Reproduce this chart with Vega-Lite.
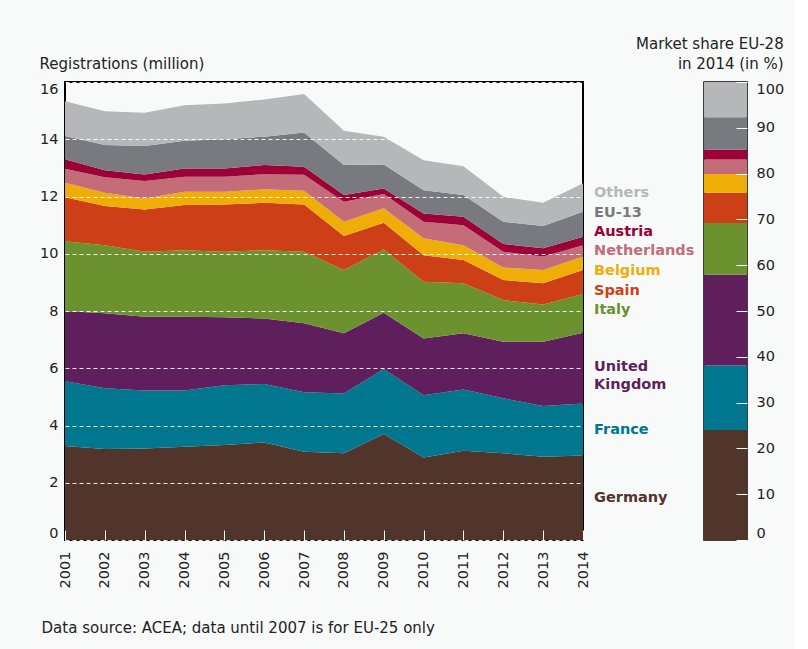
{
  "$schema": "https://vega.github.io/schema/vega-lite/v6.json",
  "background": "#f8faf9",
  "padding": {"left": 38, "top": 35, "right": 10, "bottom": 14},
  "config": {
    "font": "DejaVu Sans",
    "view": {"stroke": "#000000", "strokeWidth": 2},
    "axis": {"labelFont": "DejaVu Sans", "labelColor": "#222222", "labelFontSize": 14.5, "labelOverlap": false},
    "axisX": {"labelOverlap": false},
    "axisQuantitative": {"labelOverlap": false}
  },
  "bounds": "flush",
  "spacing": 121,
  "title": {
    "text": "Data source: ACEA; data until 2007 is for EU-25 only",
    "orient": "bottom", "anchor": "start", "frame": "bounds",
    "fontSize": 15, "fontWeight": "normal", "color": "#222222", "offset": 32, "dx": 3
  },
  "datasets": {
    "series": [
      {"country": "Germany", "rank": 1},
      {"country": "France", "rank": 2},
      {"country": "United Kingdom", "rank": 3},
      {"country": "Italy", "rank": 4},
      {"country": "Spain", "rank": 5},
      {"country": "Belgium", "rank": 6},
      {"country": "Netherlands", "rank": 7},
      {"country": "Austria", "rank": 8},
      {"country": "EU-13", "rank": 9},
      {"country": "Others", "rank": 10}
    ],
    "reg": [
      {"year": 2001, "country": "Germany", "value": 3.28},
      {"year": 2002, "country": "Germany", "value": 3.18},
      {"year": 2003, "country": "Germany", "value": 3.20},
      {"year": 2004, "country": "Germany", "value": 3.26},
      {"year": 2005, "country": "Germany", "value": 3.32},
      {"year": 2006, "country": "Germany", "value": 3.41},
      {"year": 2007, "country": "Germany", "value": 3.08},
      {"year": 2008, "country": "Germany", "value": 3.03},
      {"year": 2009, "country": "Germany", "value": 3.70},
      {"year": 2010, "country": "Germany", "value": 2.88},
      {"year": 2011, "country": "Germany", "value": 3.12},
      {"year": 2012, "country": "Germany", "value": 3.03},
      {"year": 2013, "country": "Germany", "value": 2.91},
      {"year": 2014, "country": "Germany", "value": 2.95},
      {"year": 2001, "country": "France", "value": 2.27},
      {"year": 2002, "country": "France", "value": 2.12},
      {"year": 2003, "country": "France", "value": 2.02},
      {"year": 2004, "country": "France", "value": 1.96},
      {"year": 2005, "country": "France", "value": 2.09},
      {"year": 2006, "country": "France", "value": 2.04},
      {"year": 2007, "country": "France", "value": 2.08},
      {"year": 2008, "country": "France", "value": 2.09},
      {"year": 2009, "country": "France", "value": 2.27},
      {"year": 2010, "country": "France", "value": 2.18},
      {"year": 2011, "country": "France", "value": 2.14},
      {"year": 2012, "country": "France", "value": 1.92},
      {"year": 2013, "country": "France", "value": 1.77},
      {"year": 2014, "country": "France", "value": 1.82},
      {"year": 2001, "country": "United Kingdom", "value": 2.45},
      {"year": 2002, "country": "United Kingdom", "value": 2.62},
      {"year": 2003, "country": "United Kingdom", "value": 2.58},
      {"year": 2004, "country": "United Kingdom", "value": 2.58},
      {"year": 2005, "country": "United Kingdom", "value": 2.37},
      {"year": 2006, "country": "United Kingdom", "value": 2.29},
      {"year": 2007, "country": "United Kingdom", "value": 2.41},
      {"year": 2008, "country": "United Kingdom", "value": 2.10},
      {"year": 2009, "country": "United Kingdom", "value": 1.97},
      {"year": 2010, "country": "United Kingdom", "value": 1.98},
      {"year": 2011, "country": "United Kingdom", "value": 1.96},
      {"year": 2012, "country": "United Kingdom", "value": 1.98},
      {"year": 2013, "country": "United Kingdom", "value": 2.25},
      {"year": 2014, "country": "United Kingdom", "value": 2.47},
      {"year": 2001, "country": "Italy", "value": 2.44},
      {"year": 2002, "country": "Italy", "value": 2.38},
      {"year": 2003, "country": "Italy", "value": 2.27},
      {"year": 2004, "country": "Italy", "value": 2.32},
      {"year": 2005, "country": "Italy", "value": 2.29},
      {"year": 2006, "country": "Italy", "value": 2.38},
      {"year": 2007, "country": "Italy", "value": 2.50},
      {"year": 2008, "country": "Italy", "value": 2.21},
      {"year": 2009, "country": "Italy", "value": 2.21},
      {"year": 2010, "country": "Italy", "value": 1.98},
      {"year": 2011, "country": "Italy", "value": 1.75},
      {"year": 2012, "country": "Italy", "value": 1.45},
      {"year": 2013, "country": "Italy", "value": 1.30},
      {"year": 2014, "country": "Italy", "value": 1.35},
      {"year": 2001, "country": "Spain", "value": 1.53},
      {"year": 2002, "country": "Spain", "value": 1.37},
      {"year": 2003, "country": "Spain", "value": 1.48},
      {"year": 2004, "country": "Spain", "value": 1.58},
      {"year": 2005, "country": "Spain", "value": 1.65},
      {"year": 2006, "country": "Spain", "value": 1.66},
      {"year": 2007, "country": "Spain", "value": 1.65},
      {"year": 2008, "country": "Spain", "value": 1.19},
      {"year": 2009, "country": "Spain", "value": 0.93},
      {"year": 2010, "country": "Spain", "value": 0.93},
      {"year": 2011, "country": "Spain", "value": 0.81},
      {"year": 2012, "country": "Spain", "value": 0.70},
      {"year": 2013, "country": "Spain", "value": 0.74},
      {"year": 2014, "country": "Spain", "value": 0.84},
      {"year": 2001, "country": "Belgium", "value": 0.51},
      {"year": 2002, "country": "Belgium", "value": 0.46},
      {"year": 2003, "country": "Belgium", "value": 0.38},
      {"year": 2004, "country": "Belgium", "value": 0.47},
      {"year": 2005, "country": "Belgium", "value": 0.45},
      {"year": 2006, "country": "Belgium", "value": 0.47},
      {"year": 2007, "country": "Belgium", "value": 0.48},
      {"year": 2008, "country": "Belgium", "value": 0.50},
      {"year": 2009, "country": "Belgium", "value": 0.51},
      {"year": 2010, "country": "Belgium", "value": 0.59},
      {"year": 2011, "country": "Belgium", "value": 0.52},
      {"year": 2012, "country": "Belgium", "value": 0.44},
      {"year": 2013, "country": "Belgium", "value": 0.46},
      {"year": 2014, "country": "Belgium", "value": 0.47},
      {"year": 2001, "country": "Netherlands", "value": 0.49},
      {"year": 2002, "country": "Netherlands", "value": 0.54},
      {"year": 2003, "country": "Netherlands", "value": 0.61},
      {"year": 2004, "country": "Netherlands", "value": 0.52},
      {"year": 2005, "country": "Netherlands", "value": 0.52},
      {"year": 2006, "country": "Netherlands", "value": 0.53},
      {"year": 2007, "country": "Netherlands", "value": 0.56},
      {"year": 2008, "country": "Netherlands", "value": 0.70},
      {"year": 2009, "country": "Netherlands", "value": 0.50},
      {"year": 2010, "country": "Netherlands", "value": 0.58},
      {"year": 2011, "country": "Netherlands", "value": 0.70},
      {"year": 2012, "country": "Netherlands", "value": 0.55},
      {"year": 2013, "country": "Netherlands", "value": 0.47},
      {"year": 2014, "country": "Netherlands", "value": 0.40},
      {"year": 2001, "country": "Austria", "value": 0.33},
      {"year": 2002, "country": "Austria", "value": 0.25},
      {"year": 2003, "country": "Austria", "value": 0.23},
      {"year": 2004, "country": "Austria", "value": 0.29},
      {"year": 2005, "country": "Austria", "value": 0.29},
      {"year": 2006, "country": "Austria", "value": 0.32},
      {"year": 2007, "country": "Austria", "value": 0.28},
      {"year": 2008, "country": "Austria", "value": 0.23},
      {"year": 2009, "country": "Austria", "value": 0.19},
      {"year": 2010, "country": "Austria", "value": 0.29},
      {"year": 2011, "country": "Austria", "value": 0.29},
      {"year": 2012, "country": "Austria", "value": 0.27},
      {"year": 2013, "country": "Austria", "value": 0.29},
      {"year": 2014, "country": "Austria", "value": 0.29},
      {"year": 2001, "country": "EU-13", "value": 0.81},
      {"year": 2002, "country": "EU-13", "value": 0.88},
      {"year": 2003, "country": "EU-13", "value": 0.99},
      {"year": 2004, "country": "EU-13", "value": 0.97},
      {"year": 2005, "country": "EU-13", "value": 1.02},
      {"year": 2006, "country": "EU-13", "value": 0.99},
      {"year": 2007, "country": "EU-13", "value": 1.20},
      {"year": 2008, "country": "EU-13", "value": 1.05},
      {"year": 2009, "country": "EU-13", "value": 0.84},
      {"year": 2010, "country": "EU-13", "value": 0.81},
      {"year": 2011, "country": "EU-13", "value": 0.76},
      {"year": 2012, "country": "EU-13", "value": 0.78},
      {"year": 2013, "country": "EU-13", "value": 0.78},
      {"year": 2014, "country": "EU-13", "value": 0.88},
      {"year": 2001, "country": "Others", "value": 1.22},
      {"year": 2002, "country": "Others", "value": 1.18},
      {"year": 2003, "country": "Others", "value": 1.17},
      {"year": 2004, "country": "Others", "value": 1.24},
      {"year": 2005, "country": "Others", "value": 1.25},
      {"year": 2006, "country": "Others", "value": 1.30},
      {"year": 2007, "country": "Others", "value": 1.34},
      {"year": 2008, "country": "Others", "value": 1.20},
      {"year": 2009, "country": "Others", "value": 0.97},
      {"year": 2010, "country": "Others", "value": 1.05},
      {"year": 2011, "country": "Others", "value": 1.01},
      {"year": 2012, "country": "Others", "value": 0.87},
      {"year": 2013, "country": "Others", "value": 0.81},
      {"year": 2014, "country": "Others", "value": 0.99}
    ],
    "labels": [
      {"year": 2014, "country": "Others", "label": "Others", "at": 12.12},
      {"year": 2014, "country": "EU-13", "label": "EU-13", "at": 11.44},
      {"year": 2014, "country": "Austria", "label": "Austria", "at": 10.76},
      {"year": 2014, "country": "Netherlands", "label": "Netherlands", "at": 10.08},
      {"year": 2014, "country": "Belgium", "label": "Belgium", "at": 9.39},
      {"year": 2014, "country": "Spain", "label": "Spain", "at": 8.71},
      {"year": 2014, "country": "Italy", "label": "Italy", "at": 8.03},
      {"year": 2014, "country": "United Kingdom", "label": "United\nKingdom", "at": 6.03},
      {"year": 2014, "country": "France", "label": "France", "at": 3.84},
      {"year": 2014, "country": "Germany", "label": "Germany", "at": 1.47}
    ],
    "share": [
      {"country": "Germany", "share": 24.0},
      {"country": "France", "share": 14.1},
      {"country": "United Kingdom", "share": 19.8},
      {"country": "Italy", "share": 11.3},
      {"country": "Spain", "share": 6.6},
      {"country": "Belgium", "share": 4.1},
      {"country": "Netherlands", "share": 3.2},
      {"country": "Austria", "share": 2.1},
      {"country": "EU-13", "share": 7.1},
      {"country": "Others", "share": 7.7}
    ]
  },
  "hconcat": [
    {
      "width": 518,
      "height": 458,
      "title": {
        "text": "Registrations (million)", "anchor": "start", "frame": "bounds",
        "fontSize": 15, "fontWeight": "normal", "color": "#222222", "offset": 9.5
      },
      "layer": [
        {
          "data": {"name": "reg"},
          "transform": [
            {"lookup": "country", "from": {"data": {"name": "series"}, "key": "country", "fields": ["rank"]}}
          ],
          "mark": {"type": "area", "opacity": 1},
          "encoding": {
            "x": {
              "field": "year", "type": "quantitative",
              "scale": {"domain": [2001, 2014], "nice": false, "zero": false},
              "axis": {
                "title": null, "values": [2001, 2002, 2003, 2004, 2005, 2006, 2007, 2008, 2009, 2010, 2011, 2012, 2013, 2014],
                "format": "d", "labelAngle": -90, "labelAlign": "right", "labelBaseline": "middle", "labelOverlap": false,
                "domain": false, "grid": false, "tickColor": "#ffffff", "tickSize": -10, "tickWidth": 1,
                "labelPadding": 21, "zindex": 1
              }
            },
            "y": {
              "field": "value", "type": "quantitative", "stack": "zero",
              "scale": {"domain": [0, 16], "nice": false},
              "axis": {
                "title": null, "values": [0, 2, 4, 6, 8, 10, 12, 14, 16],
                "domain": false, "ticks": false, "labelPadding": 7, "labelFlush": true,
                "grid": true, "gridColor": "#ffffff", "gridDash": [4, 3], "gridWidth": 1, "gridOpacity": 0.9, "zindex": 1
              }
            },
            "order": {"field": "rank", "type": "quantitative", "sort": "ascending"},
            "color": {
              "field": "country", "type": "nominal",
              "scale": {
                "domain": ["Germany", "France", "United Kingdom", "Italy", "Spain", "Belgium", "Netherlands", "Austria", "EU-13", "Others"],
                "range": ["#52352a", "#00768f", "#5f1f5d", "#6b922f", "#cd4017", "#eeae07", "#c46c78", "#9c0036", "#797a80", "#b6b7b9"]
              },
              "legend": null
            }
          }
        },
        {
          "data": {"name": "labels"},
          "mark": {"type": "text", "align": "left", "baseline": "middle", "dx": 11, "fontSize": 14.5, "fontWeight": "bold", "lineBreak": "\n", "lineHeight": 18},
          "encoding": {
            "x": {
              "field": "year", "type": "quantitative",
              "axis": {
                "title": null, "values": [2001, 2002, 2003, 2004, 2005, 2006, 2007, 2008, 2009, 2010, 2011, 2012, 2013, 2014],
                "format": "d", "labelAngle": -90, "labelAlign": "right", "labelBaseline": "middle", "labelOverlap": false,
                "domain": false, "grid": false, "tickColor": "#ffffff", "tickSize": -10, "tickWidth": 1,
                "labelPadding": 21, "zindex": 1
              }
            },
            "y": {"field": "at", "type": "quantitative"},
            "text": {"field": "label"},
            "color": {"field": "country", "type": "nominal", "legend": null}
          }
        }
      ]
    },
    {
      "width": 43,
      "height": 458,
      "data": {"name": "share"},
      "transform": [
        {"lookup": "country", "from": {"data": {"name": "series"}, "key": "country", "fields": ["rank"]}}
      ],
      "view": {"stroke": "#000000", "strokeWidth": 1.5},
      "title": {
        "text": ["Market share EU-28", "in 2014 (in %)"], "anchor": "end", "frame": "bounds",
        "fontSize": 15, "fontWeight": "normal", "color": "#222222", "offset": 9.5, "lineHeight": 20
      },
      "mark": {"type": "bar"},
      "encoding": {
        "x": {"datum": "2014", "type": "nominal", "axis": null, "scale": {"paddingInner": 0, "paddingOuter": 0}},
        "y": {
          "field": "share", "type": "quantitative", "stack": "zero",
          "scale": {"domain": [0, 100], "nice": false},
          "axis": {
            "title": null, "orient": "right", "values": [0, 10, 20, 30, 40, 50, 60, 70, 80, 90, 100],
            "domain": false, "grid": false, "tickColor": "#ffffff", "tickSize": -11, "labelPadding": 20,
            "labelFlush": true, "zindex": 1
          }
        },
        "order": {"field": "rank", "type": "quantitative", "sort": "ascending"},
        "color": {
          "field": "country", "type": "nominal",
          "scale": {
            "domain": ["Germany", "France", "United Kingdom", "Italy", "Spain", "Belgium", "Netherlands", "Austria", "EU-13", "Others"],
            "range": ["#52352a", "#00768f", "#5f1f5d", "#6b922f", "#cd4017", "#eeae07", "#c46c78", "#9c0036", "#797a80", "#b6b7b9"]
          },
          "legend": null
        }
      }
    }
  ]
}
